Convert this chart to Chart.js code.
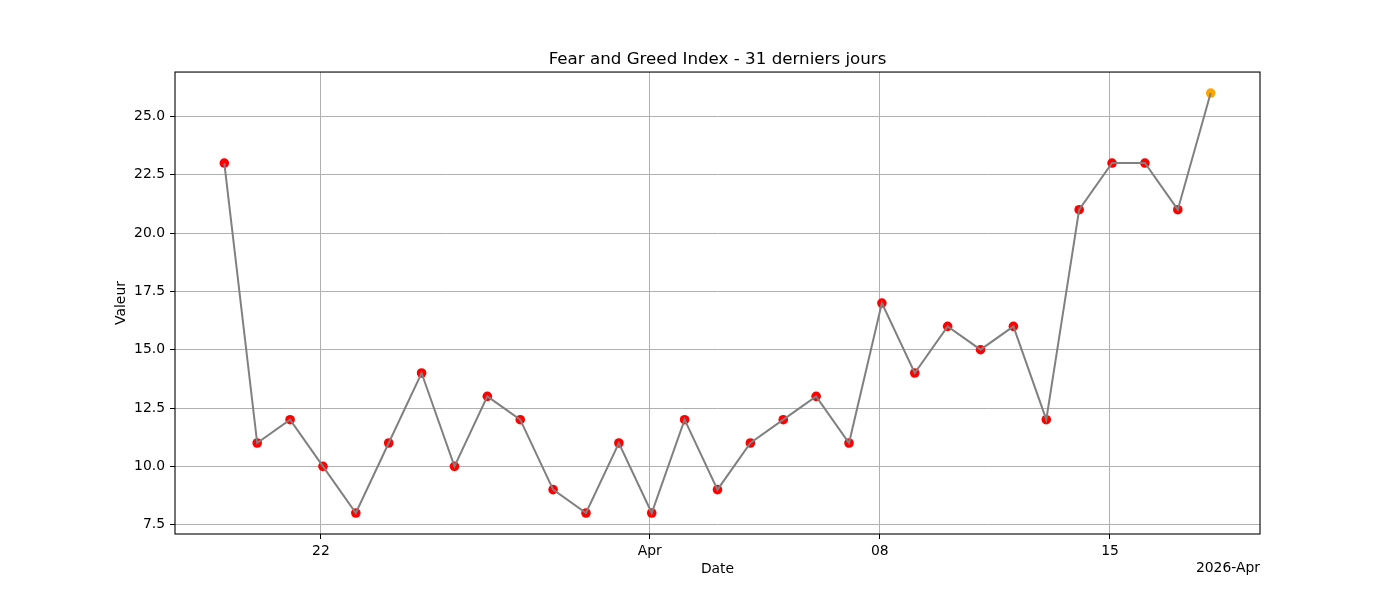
<!DOCTYPE html>
<html>
<head>
<meta charset="utf-8">
<title>Fear and Greed Index</title>
<script src="https://cdn.jsdelivr.net/npm/chart.js@4.4.1/dist/chart.umd.min.js"></script>
<style>
  html, body { margin:0; padding:0; background:#fff; }
  #wrap { width:1400px; height:600px; position:relative; }
</style>
</head>
<body>
<div id="wrap"><canvas id="chart"></canvas></div>
<script>
/* Fear and Greed Index – 31 derniers jours */

const DATES = [
  '2026-03-19T01:30','2026-03-20T01:30','2026-03-21T01:30','2026-03-22T01:30','2026-03-23T01:30',
  '2026-03-24T01:30','2026-03-25T01:30','2026-03-26T01:30','2026-03-27T01:30','2026-03-28T01:30',
  '2026-03-29T01:30','2026-03-30T01:30','2026-03-31T01:30','2026-04-01T01:30','2026-04-02T01:30',
  '2026-04-03T01:30','2026-04-04T01:30','2026-04-05T01:30','2026-04-06T01:30','2026-04-07T01:30',
  '2026-04-08T01:30','2026-04-09T01:30','2026-04-10T01:30','2026-04-11T01:30','2026-04-12T01:30',
  '2026-04-13T01:30','2026-04-14T01:30','2026-04-15T01:30','2026-04-16T01:30','2026-04-17T01:30',
  '2026-04-18T01:30'
];
const VALUES = [23, 11, 12, 10, 8, 11, 14, 10, 13, 12, 9, 8, 11, 8, 12, 9,
                11, 12, 13, 11, 17, 14, 16, 15, 16, 12, 21, 23, 23, 21, 26];

const X_TICK_DATES  = ['2026-03-22','2026-04-01','2026-04-08','2026-04-15'];
const X_TICK_LABELS = ['22', 'Apr', '08', '15'];
const Y_TICKS = [7.5, 10.0, 12.5, 15.0, 17.5, 20.0, 22.5, 25.0];
const OFFSET_LABEL = '2026-Apr';

const FONT = 'DejaVu Sans';
const DAY = 86400000;
const t0 = Date.parse('2026-03-19T00:00:00Z');
const toDay = s => (Date.parse(s.length > 10 ? s + ':00Z' : s + 'T00:00:00Z') - t0) / DAY;

const xs = DATES.map(toDay);
const pts = xs.map((x, i) => ({ x, y: VALUES[i] }));
const ptColors = VALUES.map((v, i) => i === VALUES.length - 1 ? 'orange' : 'red');

// marges de 5 % façon matplotlib
const xSpan = Math.max(...xs) - Math.min(...xs);
const ySpan = Math.max(...VALUES) - Math.min(...VALUES);
const X_MIN = Math.min(...xs) - xSpan * 0.05, X_MAX = Math.max(...xs) + xSpan * 0.05;
const Y_MIN = Math.min(...VALUES) - ySpan * 0.05, Y_MAX = Math.max(...VALUES) + ySpan * 0.05;

const xTickVals = X_TICK_DATES.map(toDay);

const framePlugin = {
  id: 'frame',
  afterDraw(chart){
    const { ctx, chartArea: a } = chart;
    ctx.save();
    ctx.strokeStyle = '#000';
    ctx.lineWidth = 1.1;
    ctx.strokeRect(a.left, a.top, a.right - a.left, a.bottom - a.top);
    ctx.fillStyle = '#000';
    ctx.font = `13.9px "${FONT}"`;
    ctx.textAlign = 'right';
    ctx.textBaseline = 'middle';
    ctx.fillText(OFFSET_LABEL, a.right, 568);
    ctx.restore();
  }
};

new Chart(document.getElementById('chart'), {
  type: 'line',
  data: {
    datasets: [
      { data: pts, borderColor: 'gray', borderWidth: 2, pointRadius: 0, fill: false,
        tension: 0, order: 0 },
      { data: pts, showLine: false, pointRadius: 4.8, pointHoverRadius: 4.8,
        pointBackgroundColor: ptColors, pointBorderWidth: 0, order: 1 }
    ]
  },
  options: {
    responsive: true,
    maintainAspectRatio: false,
    devicePixelRatio: 1,
    animation: false,
    layout: { padding: { left: 0, right: 140, top: 0, bottom: 0 } },
    scales: {
      x: {
        type: 'linear', min: X_MIN, max: X_MAX,
        afterBuildTicks: s => { s.ticks = xTickVals.map(v => ({ value: v })); },
        afterFit: s => { s.height = 66; },
        ticks: { color: '#000', font: { family: FONT, size: 13.9 }, padding: 4, maxRotation: 0,
          callback: v => X_TICK_LABELS[xTickVals.findIndex(t => Math.abs(t - v) < 1e-6)] },
        grid: { color: '#b0b0b0', lineWidth: 1, tickLength: 5, tickColor: '#000', drawTicks: true },
        border: { display: false },
        title: { display: true, text: 'Date', color: '#000', font: { family: FONT, size: 13.9 },
          padding: { top: 0, bottom: 22 } }
      },
      y: {
        type: 'linear', min: Y_MIN, max: Y_MAX,
        afterBuildTicks: s => { s.ticks = Y_TICKS.map(v => ({ value: v })); },
        afterFit: s => { s.width = 175; },
        ticks: { color: '#000', font: { family: FONT, size: 13.9 }, padding: 5,
          callback: v => v.toFixed(1) },
        grid: { color: '#b0b0b0', lineWidth: 1, tickLength: 5, tickColor: '#000', drawTicks: true },
        border: { display: false },
        title: { display: true, text: 'Valeur', color: '#000', font: { family: FONT, size: 13.9 },
          padding: { top: 112.7, bottom: 0 } }
      }
    },
    plugins: {
      legend: { display: false },
      tooltip: { enabled: false },
      title: { display: true, fullSize: false, text: 'Fear and Greed Index - 31 derniers jours',
        color: '#000', font: { family: FONT, size: 16.7, weight: 'normal' },
        padding: { top: 50, bottom: 2 } }
    }
  },
  plugins: [framePlugin]
});
</script>
</body>
</html>
